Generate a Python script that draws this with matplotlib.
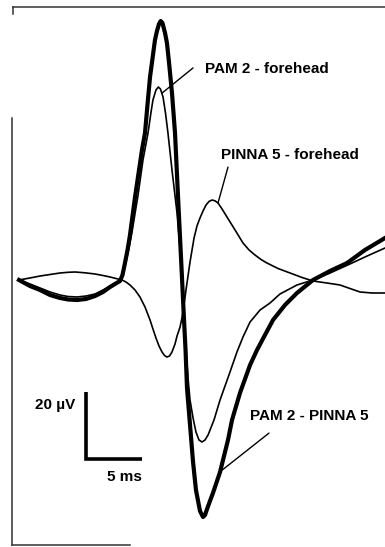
import matplotlib
matplotlib.use("Agg")
import matplotlib.pyplot as plt
from matplotlib.lines import Line2D

# ---- data (time in ms, amplitude in microvolts) ----
t_diff = [0, 0.98, 1.88, 2.77, 3.66, 4.38, 5.18, 5.98, 6.79, 7.50, 8.13, 8.57, 9.02, 9.24, 9.46,
          9.69, 9.91, 10.36, 10.98, 11.25, 11.47, 11.70, 12.14, 12.32, 12.50, 12.65, 12.81, 13.04,
          13.21, 13.39, 13.66, 13.93, 14.20, 14.55, 14.69, 14.87, 15.00, 15.27, 15.54, 15.80,
          16.16, 16.43, 16.61, 16.79, 17.05, 17.32, 17.95, 18.66, 19.02, 19.73, 20.63, 21.25,
          21.96, 22.68, 23.75, 24.82, 26.25, 27.77, 29.29, 30.89, 32.68]
v_diff = [0, -1.79, -2.99, -4.48, -5.37, -5.82, -5.97, -5.67, -4.78, -3.58, -2.09, -1.19, -0.30,
          1.49, 5.07, 8.96, 13.43, 24.78, 38.81, 43.88, 52.24, 60.60, 71.64, 74.33, 76.42, 77.31,
          76.72, 73.73, 70.75, 65.07, 55.82, 43.88, 24.78, 0.90, -8.96, -20.90, -32.24, -43.28,
          -54.33, -62.69, -68.96, -70.75, -70.15, -68.36, -65.97, -63.58, -57.31, -47.76, -41.79,
          -33.73, -25.37, -20.90, -16.42, -11.94, -7.46, -3.88, 0, 2.69, 5.07, 8.96, 12.54]

t_pam = [0, 0.98, 1.88, 2.77, 3.66, 4.38, 5.18, 5.98, 6.79, 7.50, 8.13, 8.57, 9.02, 9.29, 9.55,
         9.82, 10.09, 10.63, 11.07, 11.52, 11.79, 11.96, 12.23, 12.44, 12.63, 12.86, 13.08, 13.30,
         13.66, 14.11, 14.46, 14.64, 14.91, 15.09, 15.27, 15.54, 15.80, 16.07, 16.34, 16.61,
         16.88, 17.41, 17.95, 18.84, 19.46, 20.00, 20.63, 21.52, 22.41, 23.30, 24.82, 26.25,
         27.77, 29.55, 30.89, 32.68]
v_pam = [0, -1.19, -2.39, -3.58, -4.48, -4.93, -5.07, -4.78, -4.18, -2.99, -1.79, -0.90, -0.30,
         1.79, 5.37, 9.55, 14.33, 25.37, 35.82, 43.88, 50.15, 53.73, 56.72, 57.61, 57.01, 54.63,
         49.85, 43.88, 32.84, 20.0, 5.97, -5.97, -20.90, -29.25, -35.82, -41.19, -45.37, -47.76,
         -48.36, -47.76, -46.27, -41.79, -35.82, -27.46, -21.49, -17.01, -12.54, -8.96, -6.87,
         -4.18, -1.49, 0, 2.09, 4.78, 6.87, 9.55]

t_pinna = [0, 0.98, 1.88, 2.77, 3.66, 4.38, 5.00, 5.89, 6.79, 7.50, 8.13, 8.66, 9.20, 9.55, 9.91,
           10.36, 10.80, 11.25, 11.70, 11.96, 12.23, 12.50, 12.77, 12.99, 13.21, 13.44, 13.66,
           13.93, 14.11, 14.38, 14.55, 14.73, 14.91, 15.09, 15.27, 15.63, 15.89, 16.16, 16.43,
           16.70, 16.96, 17.23, 17.50, 17.77, 18.13, 18.57, 19.29, 20.00, 20.54, 21.07, 21.61,
           22.14, 23.13, 24.20, 25.27, 26.25, 27.50, 28.66, 29.55, 30.45, 31.52, 32.68]
v_pinna = [0, 0.60, 1.19, 1.64, 2.09, 2.30, 2.39, 2.15, 1.79, 1.34, 0.90, 0.45, 0, -0.60, -1.49,
           -2.99, -5.07, -8.06, -11.94, -14.63, -17.31, -19.70, -21.49, -22.54, -22.99, -22.69,
           -21.49, -19.10, -16.72, -14.03, -11.34, -7.46, -2.99, 1.19, 5.37, 12.54, 16.12, 18.51,
           20.60, 22.39, 23.43, 23.88, 23.64, 22.99, 21.19, 18.81, 14.93, 11.04, 8.96, 7.46, 6.12,
           5.07, 3.43, 2.09, 0.75, -0.30, -0.90, -1.49, -2.54, -3.58, -3.88, -3.88]

labels = ["PAM 2 - forehead", "PINNA 5 - forehead", "PAM 2 - PINNA 5"]
scale_ms = 5
scale_uv = 20

# ---- layout ----
W, H = 385, 547
X0_PX, BASE_PX = 19, 280
PX_PER_MS, PX_PER_UV = 11.2, 3.35

fig = plt.figure(figsize=(W / 100, H / 100), dpi=100)
ax = fig.add_axes([0, 0, 1, 1])
ax.set_xlim(-X0_PX / PX_PER_MS, (W - X0_PX) / PX_PER_MS)
ax.set_ylim((BASE_PX - H) / PX_PER_UV, BASE_PX / PX_PER_UV)
ax.axis("off")

font = dict(family=["Liberation Sans", "DejaVu Sans"],
            weight="bold", size=11, color="black")

ax.plot(t_pam, v_pam, color="black", lw=1.2, solid_joinstyle="round")
ax.plot(t_pinna, v_pinna, color="black", lw=1.2, solid_joinstyle="round")
ax.plot(t_diff, v_diff, color="black", lw=3.0, solid_joinstyle="round")

# labels with leader lines
leader = dict(arrowstyle="-", color="black", lw=1.0, shrinkA=0, shrinkB=0)
ax.annotate("", xy=(12.77, 55.8), xytext=(15.54, 63.3), arrowprops=leader)
ax.text(16.6, 63.0, labels[0], ha="left", va="center", **font)
ax.annotate("", xy=(17.77, 23.0), xytext=(18.66, 33.7), arrowprops=leader)
ax.text(18.0, 37.3, labels[1], ha="left", va="center", **font)
ax.annotate("", xy=(18.04, -57.0), xytext=(22.32, -45.7), arrowprops=leader)
ax.text(20.6, -40.6, labels[2], ha="left", va="center", **font)

# scale bar
sx, sy = 5.98, -53.43
ax.plot([sx, sx, sx + scale_ms], [sy + scale_uv, sy, sy], color="black", lw=2.6,
        solid_joinstyle="miter", solid_capstyle="butt")
ax.text(sx - 0.95, sy + 16.0, f"{scale_uv} \u00b5V", ha="right", va="center", **font)
ax.text(sx + scale_ms, sy - 5.5, f"{scale_ms} ms", ha="right", va="center", **font)

# frame pieces
def px(x, y):
    return x / W, 1 - y / H

for (x1, y1), (x2, y2) in [((13, 7), (385, 7)), ((13, 7), (13, 14)),
                           ((12.5, 118), (12.5, 545)), ((12.5, 545), (130, 545))]:
    a, b = px(x1, y1), px(x2, y2)
    fig.add_artist(Line2D([a[0], b[0]], [a[1], b[1]], color="#333333", lw=1.1,
                          transform=fig.transFigure))

fig.savefig("out.png", dpi=100, facecolor="white")
